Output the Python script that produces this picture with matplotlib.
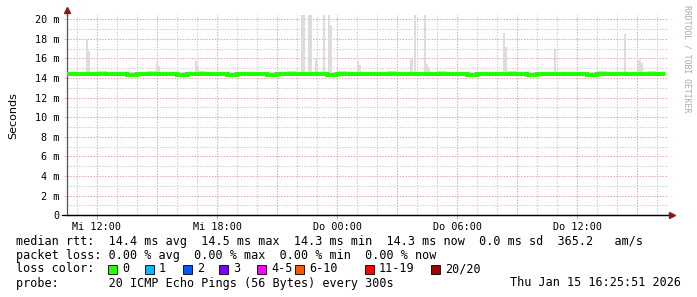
import matplotlib
matplotlib.use("Agg")
import matplotlib.pyplot as plt
import numpy as np

# --- data (milliseconds, hours since Wed 00:00) ---
x_start, x_end = 10.5, 40.55
data_end = 40.4

median_ms = [14.45, 14.4, 14.4, 14.45, 14.4, 14.4, 14.35, 14.4, 14.45, 14.4,
             14.4, 14.35, 14.4, 14.4, 14.45, 14.4, 14.35, 14.4, 14.4, 14.4,
             14.35, 14.4, 14.4, 14.45, 14.4, 14.4, 14.35, 14.4, 14.45, 14.4,
             14.4, 14.45, 14.4, 14.4, 14.45, 14.4, 14.4, 14.45, 14.4, 14.4,
             14.35, 14.4, 14.4, 14.45, 14.4, 14.4, 14.35, 14.4, 14.4, 14.45,
             14.4, 14.4, 14.35, 14.4, 14.4, 14.4, 14.45, 14.4, 14.4, 14.4]
smoke_hi = [14.6, 14.65, 14.6, 14.7, 14.65, 14.6, 14.6, 14.65, 14.7, 14.6,
            14.65, 14.6, 14.6, 14.7, 14.6, 14.65, 14.6, 14.6, 14.65, 14.6,
            14.6, 14.65, 14.7, 14.6, 14.6, 14.65, 14.6, 14.7, 14.65, 14.6,
            14.6, 14.65, 14.7, 14.6, 14.65, 14.6, 14.6, 14.7, 14.6, 14.65,
            14.6, 14.6, 14.65, 14.6, 14.7, 14.6, 14.6, 14.65, 14.6, 14.6,
            14.65, 14.6, 14.6, 14.7, 14.6, 14.65, 14.6, 14.6, 14.7, 14.6]
smoke_lo = [14.25, 14.3, 14.25, 14.3, 14.3, 14.25, 14.2, 14.3, 14.3, 14.25,
            14.3, 14.2, 14.25, 14.3, 14.3, 14.25, 14.2, 14.3, 14.25, 14.3,
            14.2, 14.25, 14.3, 14.3, 14.25, 14.3, 14.2, 14.25, 14.3, 14.3,
            14.25, 14.3, 14.25, 14.3, 14.3, 14.25, 14.3, 14.3, 14.25, 14.3,
            14.2, 14.25, 14.3, 14.3, 14.25, 14.3, 14.2, 14.25, 14.3, 14.3,
            14.25, 14.3, 14.2, 14.25, 14.3, 14.3, 14.25, 14.3, 14.25, 14.3]

# single-ping outliers ("smoke" spikes); 22 = clipped above the top
spike_hours = [11.50, 11.60, 15.00, 15.10, 16.95, 17.05, 22.25, 22.35, 22.60,
               22.70, 22.93, 23.00, 23.35, 23.60, 23.68, 25.05, 25.15, 27.72,
               27.88, 28.38, 28.50, 28.60, 32.35, 32.43, 34.88, 38.38, 39.12,
               39.22]
spike_tops = [18.0, 16.8, 15.55, 15.2, 15.7, 15.2, 22, 22, 22,
              22, 16.0, 15.3, 22, 22, 19.3, 15.75, 15.3, 15.9,
              22, 22, 15.4, 15.1, 18.6, 17.2, 17.0, 18.5, 15.8,
              15.5]

tick_hours = [12, 18, 24, 30, 36]
tick_labels = ["Mi 12:00", "Mi 18:00", "Do 00:00", "Do 06:00", "Do 12:00"]
y_ticks = [0, 2, 4, 6, 8, 10, 12, 14, 16, 18, 20]
y_labels = ["0"] + [f"{v} m" for v in y_ticks[1:]]

loss_labels = ["0", "1", "2", "3", "4-5", "6-10", "11-19", "20/20"]
loss_colors = ["#26ff00", "#00b8ff", "#0059ff", "#7e00ff", "#ff00ff",
               "#ff5500", "#ff0000", "#a00000"]

# --- figure ---
W, H = 697, 297
fig = plt.figure(figsize=(W / 100, H / 100), dpi=100, facecolor="white")
mono = "DejaVu Sans Mono"


def fx(px):
    return px / W


def fy(py):
    return 1 - py / H


ax_l, ax_r, ax_b, ax_t = 67, 668, 215.3, 15.3
ax = fig.add_axes([fx(ax_l), fy(ax_b), (ax_r - ax_l) / W, (ax_b - ax_t) / H])
ax.set_xlim(x_start, x_end)
ax.set_ylim(0, 20.4)
ax.set_facecolor("white")

# grid
for h in np.arange(11, 41, 1):
    major = (h % 3 == 0)
    ax.axvline(h, color="#e4aaaa" if major else "#cfcfcf", lw=0.8,
               dashes=(1.3, 1.3), zorder=0)
for v in np.arange(1, 21, 1):
    major = (v % 2 == 0)
    ax.axhline(v, color="#e4aaaa" if major else "#cfcfcf", lw=0.8,
               dashes=(1.3, 1.3), zorder=0)

edges = np.append(np.arange(10.5, 40.4, 0.5), data_end)
ax.stairs(smoke_hi, edges, baseline=smoke_lo, fill=True, color="#d8d8d8",
          zorder=2)
ax.bar(spike_hours, np.array(spike_tops) - 14.4, bottom=14.4, width=0.11,
       color="#dcdcdc", zorder=2, linewidth=0)
ax.stairs(median_ms, edges, baseline=None, color="#22ff00", lw=2.9, zorder=3)

# axes
for s in ["top", "right"]:
    ax.spines[s].set_visible(False)
ax.spines["left"].set_color("#555555")
ax.spines["bottom"].set_color("black")
ax.spines["left"].set_linewidth(0.9)
ax.spines["bottom"].set_linewidth(0.9)
ax.plot([0, 0], [1, 1.025], transform=ax.transAxes, color="#555555",
        lw=0.9, clip_on=False)
ax.plot([0], [1.025], marker="^", ms=4, color="#8b1a1a",
        transform=ax.transAxes, clip_on=False)
ax.plot([-0.008, 1.006], [0, 0], transform=ax.transAxes, color="black",
        lw=0.9, clip_on=False)
ax.plot([1.006], [0], marker=">", ms=4, color="#8b1a1a",
        transform=ax.transAxes, clip_on=False)

ax.set_xticks(tick_hours)
ax.set_xticklabels(tick_labels, fontfamily=mono, fontsize=7.3)
ax.set_yticks(y_ticks)
ax.set_yticklabels(y_labels, fontfamily=mono, fontsize=7.3)
ax.tick_params(axis="x", length=3, color="#e4aaaa", pad=1.5)
ax.tick_params(axis="y", length=2, color="#cfcfcf", pad=3.5)
ax.set_ylabel("Seconds", fontfamily="DejaVu Sans", fontsize=8, labelpad=12)

fig.text(fx(687), fy(5), "RRDTOOL / TOBI OETIKER", rotation=270,
         fontfamily=mono, fontsize=5.9, color="#aaaaaa", ha="center", va="top")

# legend
lkw = dict(fontfamily=mono, fontsize=8.5, color="black", va="center")
fig.text(fx(16), fy(241), "median rtt:  14.4 ms avg  14.5 ms max  14.3 ms min"
         "  14.3 ms now  0.0 ms sd  365.2   am/s", **lkw)
fig.text(fx(16), fy(255), "packet loss: 0.00 % avg  0.00 % max  0.00 % min"
         "  0.00 % now", **lkw)
fig.text(fx(16), fy(269), "loss color:", **lkw)
sq_x = [108, 145, 183, 219, 257, 295, 365, 431]
for x0, lab, col in zip(sq_x, loss_labels, loss_colors):
    fig.patches.append(plt.Rectangle((fx(x0), fy(274)), fx(9), 9 / H,
                                     transform=fig.transFigure,
                                     facecolor=col, edgecolor="black", lw=0.6))
    fig.text(fx(x0 + 14), fy(269), lab, **lkw)
fig.text(fx(16), fy(283), "probe:       20 ICMP Echo Pings (56 Bytes) every 300s",
         **lkw)
fig.text(fx(681), fy(283), "Thu Jan 15 16:25:51 2026", ha="right", **lkw)

fig.savefig("out.png", dpi=100, facecolor="white")
